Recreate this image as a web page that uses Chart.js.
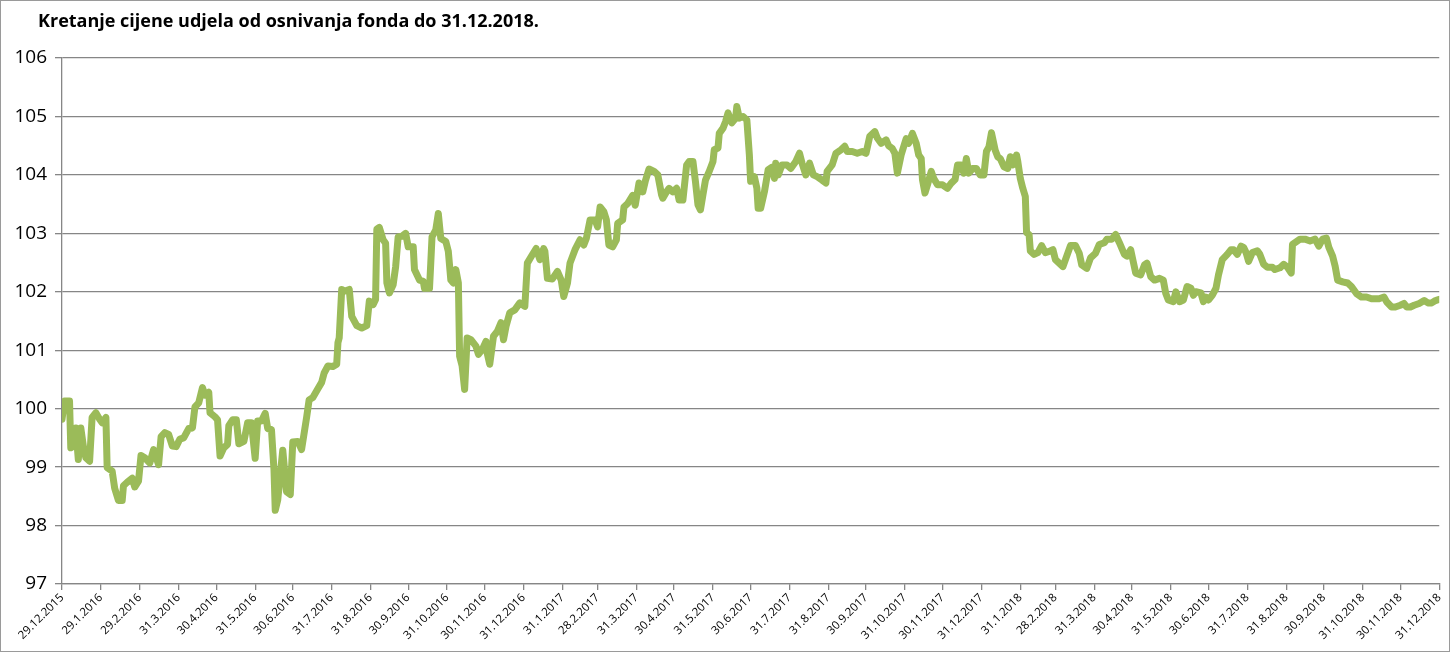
<!DOCTYPE html>
<html>
<head>
<meta charset="utf-8">
<script src="https://cdn.jsdelivr.net/npm/chart.js@4.4.0/dist/chart.umd.min.js"></script>
<style>
  html, body { margin: 0; padding: 0; background: #fff; }
  #wrap { position: relative; width: 1450px; height: 652px; }
  #frame { position: absolute; left: 0; top: 0; width: 1448px; height: 650px; border: 1px solid #9a9a9a; pointer-events: none; }
  #title { position: absolute; left: 38px; top: 8px; font: bold 18px 'Open Sans', sans-serif; color: #000; white-space: nowrap; }
</style>
</head>
<body>
<div id="wrap">
  <canvas id="chart" width="1450" height="652"></canvas>
  <div id="title">Kretanje cijene udjela od osnivanja fonda do 31.12.2018.</div>
  <div id="frame"></div>
</div>
<script>
// x axis labels (month ends)
const tickLabels = ['29.12.2015','29.1.2016','29.2.2016','31.3.2016','30.4.2016','31.5.2016','30.6.2016',
  '31.7.2016','31.8.2016','30.9.2016','31.10.2016','30.11.2016','31.12.2016','31.1.2017','28.2.2017',
  '31.3.2017','30.4.2017','31.5.2017','30.6.2017','31.7.2017','31.8.2017','30.9.2017','31.10.2017',
  '30.11.2017','31.12.2017','31.1.2018','28.2.2018','31.3.2018','30.4.2018','31.5.2018','30.6.2018',
  '31.7.2018','31.8.2018','30.9.2018','31.10.2018','30.11.2018','31.12.2018'];

// days since 29.12.2015
const days = [0,2,6,7,9,11,13,15,17,19,22,24,27,30,32,35,36,40,42,45,48,49,52,56,58,61,63,66,70,73,77,79,82,85,88,91,94,97,
  101,104,106,109,112,114,117,118,122,124,126,129,132,133,136,139,141,145,148,151,154,156,159,162,164,167,169,170,172,176,179,
  182,184,188,191,195,197,200,204,207,209,212,216,219,220,221,223,225,229,231,235,239,243,245,248,250,251,253,256,258,259,261,
  264,266,268,271,274,276,280,281,285,288,289,293,294,295,298,300,302,306,308,310,312,314,316,317,319,321,323,326,330,332,335,
  338,339,341,344,347,350,352,354,357,361,365,369,371,374,378,381,384,385,387,391,395,398,400,403,405,409,413,416,418,421,425,
  427,429,432,434,436,439,442,443,447,448,451,455,457,460,463,465,468,472,475,478,479,482,484,487,490,492,495,498,500,503,505,
  507,509,511,513,516,519,520,523,524,527,529,531,534,537,538,540,543,546,548,549,552,554,555,557,560,563,566,568,569,571,574,
  578,581,585,588,590,593,596,599,602,606,609,610,614,617,621,624,626,630,634,638,641,644,648,650,653,657,659,662,664,666,669,
  671,673,675,678,681,683,685,686,688,690,693,695,698,702,706,709,712,714,717,719,721,723,726,729,732,735,737,739,741,744,746,
  748,751,754,756,758,761,762,764,766,768,769,771,772,775,778,781,784,787,790,792,795,798,801,804,808,811,813,817,820,824,827,
  831,833,837,840,843,847,849,852,854,856,860,863,865,868,871,875,878,880,882,886,888,891,894,897,900,902,904,908,910,912,914,
  917,920,922,925,929,932,934,937,940,942,944,946,949,953,955,958,961,965,967,971,974,977,980,981,983,987,991,995,999,1002,1005,
  1008,1010,1013,1015,1017,1021,1025,1028,1032,1036,1040,1044,1050,1054,1056,1060,1063,1067,1070,1072,1075,1078,1082,1086,1089,
  1092,1095,1098];

const prices = [99.82,100.13,100.13,99.33,99.36,99.67,99.13,99.67,99.36,99.16,99.10,99.85,99.93,99.82,99.76,99.85,98.99,98.93,
  98.64,98.43,98.43,98.68,98.74,98.81,98.66,98.76,99.20,99.16,99.07,99.30,99.04,99.52,99.59,99.56,99.36,99.35,99.48,99.50,
  99.66,99.67,100.03,100.10,100.36,100.23,100.28,99.93,99.86,99.81,99.19,99.33,99.39,99.71,99.81,99.81,99.40,99.44,99.76,99.76,
  99.15,99.79,99.79,99.92,99.66,99.64,98.96,98.26,98.44,99.29,98.58,98.53,99.43,99.44,99.30,99.85,100.15,100.19,100.34,100.45,
  100.61,100.73,100.72,100.76,101.13,101.21,102.04,102.01,102.04,101.58,101.42,101.38,101.42,101.84,101.78,101.87,103.07,103.10,
  102.89,102.83,102.15,101.98,102.12,102.43,102.94,102.95,103.00,102.77,102.77,102.38,102.20,102.18,102.06,102.06,102.49,102.94,
  103.06,103.34,102.91,102.86,102.69,102.20,102.15,102.38,102.15,100.90,100.73,100.33,101.21,101.18,101.07,100.93,101.01,101.15,
  100.95,100.76,101.24,101.32,101.47,101.18,101.41,101.64,101.69,101.81,101.75,102.49,102.60,102.74,102.55,102.74,102.69,102.23,
  102.22,102.35,102.20,101.92,102.15,102.49,102.72,102.89,102.80,102.91,103.23,103.23,103.11,103.45,103.37,103.23,102.80,102.77,
  102.89,103.17,103.23,103.45,103.51,103.65,103.48,103.86,103.71,103.89,104.10,104.06,104.00,103.66,103.60,103.71,103.77,103.71,
  103.77,103.57,103.57,104.17,104.23,104.23,103.89,103.49,103.40,103.66,103.91,104.06,104.23,104.43,104.46,104.71,104.80,104.91,
  105.06,104.89,104.97,105.17,104.97,105.00,104.94,104.34,103.89,103.97,103.77,103.43,103.43,103.71,104.09,104.13,103.94,104.20,
  104.00,104.17,104.17,104.11,104.23,104.37,104.20,104.00,104.20,104.00,103.97,103.91,103.86,104.06,104.17,104.37,104.43,104.49,
  104.40,104.40,104.37,104.40,104.37,104.66,104.74,104.63,104.54,104.60,104.50,104.45,104.37,104.03,104.34,104.48,104.62,104.54,
  104.71,104.54,104.34,104.28,103.92,103.69,103.83,104.06,103.94,103.83,103.83,103.77,103.86,103.92,104.17,104.17,104.03,104.28,
  104.03,104.11,104.11,104.00,104.00,104.40,104.48,104.72,104.42,104.31,104.28,104.14,104.11,104.31,104.17,104.34,104.23,103.94,
  103.77,103.63,103.01,102.98,102.70,102.64,102.67,102.79,102.67,102.69,102.72,102.55,102.49,102.43,102.61,102.79,102.79,102.66,
  102.46,102.40,102.58,102.66,102.81,102.84,102.90,102.90,102.98,102.84,102.64,102.61,102.72,102.52,102.32,102.29,102.46,102.49,
  102.26,102.20,102.23,102.20,101.97,101.86,101.83,102.00,101.83,101.86,102.09,102.06,101.94,102.00,101.98,101.83,101.91,101.86,
  101.94,102.06,102.29,102.55,102.64,102.72,102.72,102.64,102.78,102.76,102.67,102.52,102.67,102.70,102.64,102.47,102.42,102.42,
  102.38,102.41,102.47,102.42,102.32,102.81,102.84,102.90,102.90,102.87,102.90,102.78,102.90,102.92,102.76,102.61,102.44,102.20,
  102.17,102.15,102.09,101.97,101.91,101.91,101.88,101.88,101.91,101.83,101.74,101.74,101.77,101.80,101.74,101.74,101.77,101.80,
  101.85,101.81,101.81,101.85,101.87];

const yMin = 97, yMax = 106;

const toDay = s => {
  const [d, m, y] = s.split('.').map(Number);
  return Math.round((Date.UTC(y, m - 1, d) - Date.UTC(2015, 11, 29)) / 864e5);
};
const tickDays = tickLabels.map(toDay);
const gridColor = '#868686';

new Chart(document.getElementById('chart'), {
  type: 'line',
  data: {
    datasets: [{
      data: days.map((d, i) => ({ x: d, y: prices[i] })),
      borderColor: '#9bbb59',
      borderWidth: 7,
      pointRadius: 0,
      tension: 0,
      borderJoinStyle: 'round',
      borderCapStyle: 'round'
    }]
  },
  options: {
    responsive: false,
    animation: false,
    layout: { padding: { top: 58, right: 10, left: 0, bottom: 0 } },
    plugins: { legend: { display: false }, tooltip: { enabled: false } },
    scales: {
      x: {
        type: 'linear',
        min: 0,
        max: tickDays[tickDays.length - 1],
        afterBuildTicks: s => { s.ticks = tickDays.map(v => ({ value: v })); },
        afterFit: s => { s.height = 68; },
        ticks: {
          autoSkip: false, minRotation: 45, maxRotation: 45, padding: 1,
          color: '#000', font: { family: "'Open Sans', sans-serif", size: 11.5 },
          callback: (v, i) => tickLabels[i]
        },
        grid: { drawOnChartArea: false, tickLength: 6, color: gridColor, lineWidth: 1.3 },
        border: { color: gridColor, width: 1.3 }
      },
      y: {
        min: yMin,
        max: yMax,
        afterFit: s => { s.width = 62; },
        ticks: { stepSize: 1, padding: 8, color: '#000', font: { family: "'Open Sans', sans-serif", size: 19 } },
        grid: { color: gridColor, lineWidth: 1.3, tickLength: 7 },
        border: { color: gridColor, width: 1.3 }
      }
    }
  }
});
</script>
</body>
</html>
